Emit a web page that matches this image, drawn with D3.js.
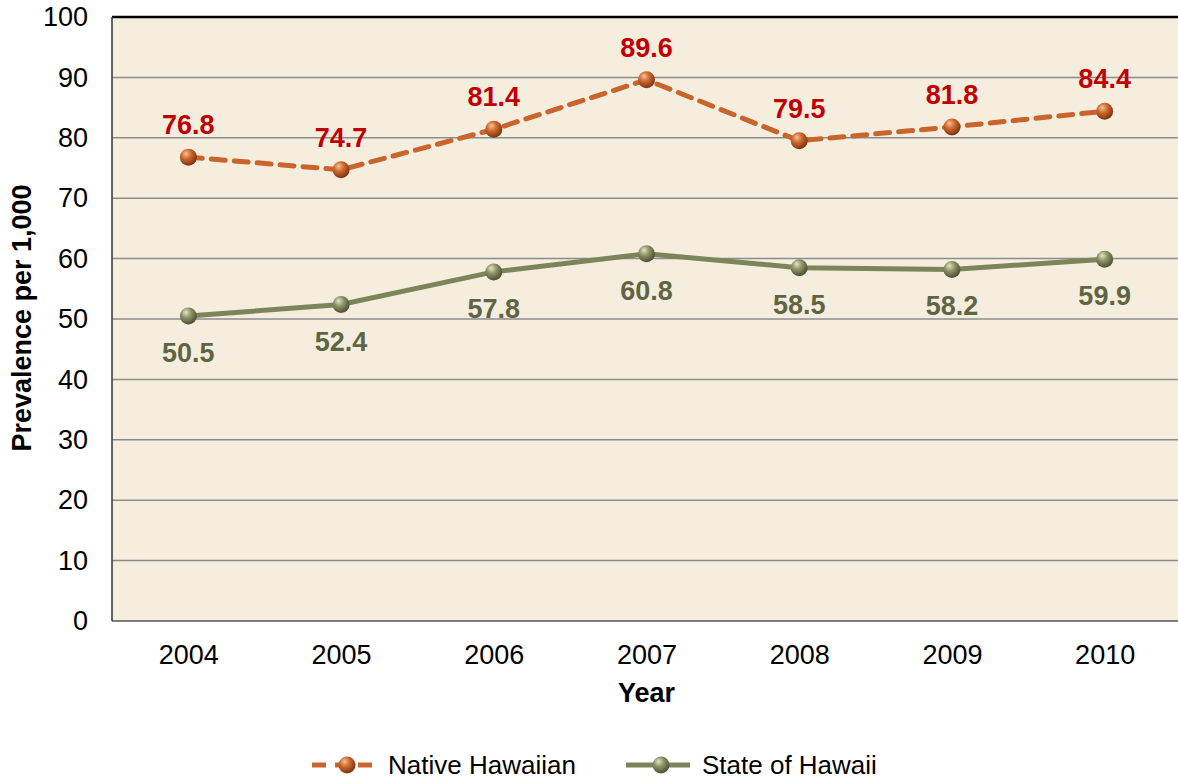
<!DOCTYPE html>
<html>
<head>
<meta charset="utf-8">
<script src="https://cdnjs.cloudflare.com/ajax/libs/d3/7.8.5/d3.min.js"></script>
<style>
  body { margin: 0; background: #fff; }
  svg text { font-family: "Liberation Sans", Arial, Helvetica, sans-serif; }
</style>
</head>
<body>
<div id="chart"></div>
<script>
var years = ['2004', '2005', '2006', '2007', '2008', '2009', '2010'];
var nativeHawaiian = [76.8, 74.7, 81.4, 89.6, 79.5, 81.8, 84.4];
var stateOfHawaii = [50.5, 52.4, 57.8, 60.8, 58.5, 58.2, 59.9];
var yTicks = [0, 10, 20, 30, 40, 50, 60, 70, 80, 90, 100];
var seriesNames = ['Native Hawaiian', 'State of Hawaii'];

var W = 1178, H = 782;
var m = { left: 112, top: 17, right: -3, bottom: 161 };

var svg = d3.select('#chart')
  .append('svg')
  .attr('width', W)
  .attr('height', H);

var defs = svg.append('defs');

function sphere(id, light, mid, dark) {
  var g = defs.append('radialGradient')
    .attr('id', id)
    .attr('cx', '40%').attr('cy', '35%').attr('r', '65%')
    .attr('fx', '35%').attr('fy', '28%');
  g.append('stop').attr('offset', '0%').attr('stop-color', light);
  g.append('stop').attr('offset', '45%').attr('stop-color', mid);
  g.append('stop').attr('offset', '100%').attr('stop-color', dark);
}
sphere('ballOrange', '#f6c29a', '#d0692e', '#7a3410');
sphere('ballGreen', '#e2e6c2', '#8e9468', '#4c5030');

var x = d3.scalePoint()
  .domain(years)
  .range([m.left, W - m.right])
  .padding(0.5);

var y = d3.scaleLinear()
  .domain([0, 100])
  .range([H - m.bottom, m.top]);

// plot background
svg.append('rect')
  .attr('x', m.left)
  .attr('y', m.top)
  .attr('width', W - m.right - m.left)
  .attr('height', y(0) - m.top)
  .attr('fill', '#f5eedf');

// gridlines
svg.append('g')
  .selectAll('line')
  .data(yTicks.filter(function(d) { return d > 0 && d < 100; }))
  .enter()
  .append('line')
  .attr('x1', m.left)
  .attr('x2', W)
  .attr('y1', function(d) { return y(d); })
  .attr('y2', function(d) { return y(d); })
  .attr('stroke', '#8c8c8c')
  .attr('stroke-width', 1.5);

// frame
svg.append('line')
  .attr('x1', m.left).attr('x2', W)
  .attr('y1', y(100)).attr('y2', y(100))
  .attr('stroke', '#000').attr('stroke-width', 2.5);
svg.append('line')
  .attr('x1', m.left).attr('x2', W)
  .attr('y1', y(0)).attr('y2', y(0))
  .attr('stroke', '#555').attr('stroke-width', 1.5);
svg.append('line')
  .attr('x1', m.left).attr('x2', m.left)
  .attr('y1', y(100)).attr('y2', y(0))
  .attr('stroke', '#333').attr('stroke-width', 1.5);

// y axis labels
var yAxis = d3.axisLeft(y)
  .tickValues(yTicks)
  .tickSize(0)
  .tickPadding(24);
svg.append('g')
  .attr('transform', 'translate(' + m.left + ',0)')
  .call(yAxis)
  .call(function(g) { g.select('.domain').remove(); })
  .selectAll('text')
  .attr('font-size', 27)
  .attr('fill', '#000')
  .style('font-family', '"Liberation Sans", Arial, sans-serif');

// x axis labels
var xAxis = d3.axisBottom(x).tickSize(0).tickPadding(24);
svg.append('g')
  .attr('transform', 'translate(0,' + y(0) + ')')
  .call(xAxis)
  .call(function(g) { g.select('.domain').remove(); })
  .selectAll('text')
  .attr('font-size', 27)
  .attr('fill', '#000')
  .style('font-family', '"Liberation Sans", Arial, sans-serif');

// axis titles
svg.append('text')
  .attr('x', x('2007'))
  .attr('y', 702)
  .attr('text-anchor', 'middle')
  .attr('font-size', 27)
  .attr('font-weight', 'bold')
  .text('Year');

svg.append('text')
  .attr('transform', 'translate(31,' + ((y(0) + y(100)) / 2 - 1) + ') rotate(-90)')
  .attr('text-anchor', 'middle')
  .attr('font-size', 27)
  .attr('font-weight', 'bold')
  .text('Prevalence per 1,000');

var line = d3.line()
  .x(function(d, i) { return x(years[i]); })
  .y(function(d) { return y(d); });

// State of Hawaii
svg.append('path')
  .datum(stateOfHawaii)
  .attr('d', line)
  .attr('fill', 'none')
  .attr('stroke', '#7c8459')
  .attr('stroke-width', 5);

// Native Hawaiian
svg.append('path')
  .datum(nativeHawaiian)
  .attr('d', line)
  .attr('fill', 'none')
  .attr('stroke', '#c8642c')
  .attr('stroke-width', 5)
  .attr('stroke-dasharray', '14,9')
  .attr('stroke-linecap', 'round');

svg.append('g')
  .selectAll('circle')
  .data(stateOfHawaii)
  .enter()
  .append('circle')
  .attr('cx', function(d, i) { return x(years[i]); })
  .attr('cy', function(d) { return y(d); })
  .attr('r', 8.5)
  .attr('fill', 'url(#ballGreen)');

svg.append('g')
  .selectAll('circle')
  .data(nativeHawaiian)
  .enter()
  .append('circle')
  .attr('cx', function(d, i) { return x(years[i]); })
  .attr('cy', function(d) { return y(d); })
  .attr('r', 8.5)
  .attr('fill', 'url(#ballOrange)');

// data labels
svg.append('g')
  .selectAll('text')
  .data(nativeHawaiian)
  .enter()
  .append('text')
  .attr('x', function(d, i) { return x(years[i]); })
  .attr('y', function(d) { return y(d) - 23; })
  .attr('text-anchor', 'middle')
  .attr('font-size', 27)
  .attr('font-weight', 'bold')
  .attr('fill', '#c00000')
  .text(function(d) { return d.toFixed(1); });

svg.append('g')
  .selectAll('text')
  .data(stateOfHawaii)
  .enter()
  .append('text')
  .attr('x', function(d, i) { return x(years[i]); })
  .attr('y', function(d) { return y(d) + 46; })
  .attr('text-anchor', 'middle')
  .attr('font-size', 27)
  .attr('font-weight', 'bold')
  .attr('fill', '#5f6543')
  .text(function(d) { return d.toFixed(1); });

// legend
var legend = [
  { name: seriesNames[0], x: 312, color: '#c8642c', dash: '14,9', ball: 'url(#ballOrange)' },
  { name: seriesNames[1], x: 626, color: '#7c8459', dash: null, ball: 'url(#ballGreen)' }
];
var lg = svg.append('g')
  .selectAll('g')
  .data(legend)
  .enter()
  .append('g')
  .attr('transform', function(d) { return 'translate(' + d.x + ',765)'; });

lg.append('line')
  .attr('x1', 0).attr('x2', 64)
  .attr('y1', 0).attr('y2', 0)
  .attr('stroke', function(d) { return d.color; })
  .attr('stroke-width', 5)
  .attr('stroke-dasharray', function(d) { return d.dash; });

lg.append('circle')
  .attr('cx', 35).attr('cy', 0).attr('r', 8.5)
  .attr('fill', function(d) { return d.ball; });

lg.append('text')
  .attr('x', 76)
  .attr('y', 9)
  .attr('font-size', 26)
  .text(function(d) { return d.name; });
</script>
</body>
</html>
